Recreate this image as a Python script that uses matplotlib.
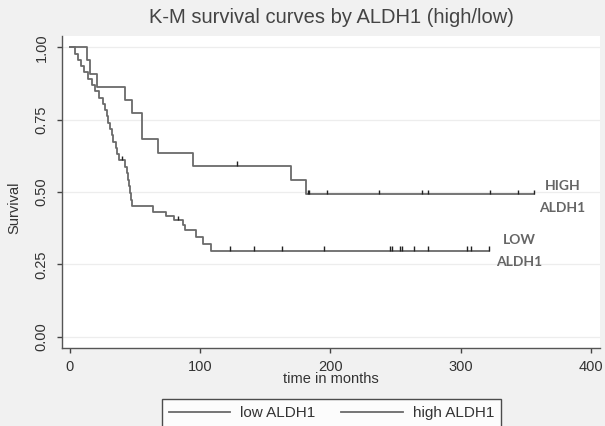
import numpy as np
import matplotlib
matplotlib.use("Agg")
import matplotlib.pyplot as plt

# Kaplan-Meier step data: time (months) of each drop and survival after it
low_times = [0, 4, 6, 8.5, 11, 14, 17, 19, 22.5, 25, 27, 28.5, 29.5, 31, 32, 33,
             35, 36.5, 38, 42.5, 43.5, 44.2, 45, 45.8, 46.6, 47.4, 64, 74, 80,
             87, 88.5, 97, 102, 108]
low_surv = [1.0, 0.978, 0.957, 0.935, 0.913, 0.891, 0.870, 0.848, 0.826, 0.804,
            0.783, 0.761, 0.739, 0.717, 0.696, 0.674, 0.652, 0.630, 0.609, 0.586,
            0.564, 0.541, 0.519, 0.496, 0.474, 0.451, 0.430, 0.417, 0.402, 0.386,
            0.368, 0.345, 0.322, 0.297]
low_end = 322
low_censored = [39.7, 83.2, 123, 141, 163, 195, 246, 247.5, 253.5, 255, 264, 275,
                305, 308, 322]

high_times = [0, 12.8, 15.4, 20.5, 42.2, 47.4, 55, 67.8, 94.7, 169.4, 181]
high_surv = [1.0, 0.955, 0.909, 0.864, 0.818, 0.773, 0.682, 0.636, 0.591, 0.542,
             0.492]
high_end = 356
high_censored = [128, 182.5, 183.5, 197, 237, 270, 274.6, 322.5, 343.7, 356]

x_ticks = [0, 100, 200, 300, 400]
y_ticks = [0.0, 0.25, 0.5, 0.75, 1.0]
y_ticklabels = ["0.00", "0.25", "0.50", "0.75", "1.00"]

title = "K-M survival curves by ALDH1 (high/low)"
series_labels = ["low ALDH1", "high ALDH1"]
curve_notes = ["LOW\nALDH1", "HIGH\nALDH1"]

plt.rcParams["font.family"] = ["Liberation Sans", "DejaVu Sans"]

fig = plt.figure(figsize=(6.05, 4.26), dpi=100, facecolor="#f1f1f1")
ax = fig.add_axes([0.1025, 0.1831, 0.8893, 0.7324])
ax.set_facecolor("white")

line_color = "#6a6a6a"
tick_color = "#222222"


def draw_curve(times, surv, end, censored):
    t = list(times) + [end]
    s = list(surv) + [surv[-1]]
    ax.step(t, s, where="post", color=line_color, lw=1.3, zorder=3)
    idx = np.searchsorted(np.array(times), np.array(censored), side="right") - 1
    cs = np.array(surv)[idx]
    ax.vlines(censored, cs, cs + 0.016, color=tick_color, lw=1.0, zorder=4)


draw_curve(low_times, low_surv, low_end, low_censored)
draw_curve(high_times, high_surv, high_end, high_censored)

ax.set_xlim(-6.1, 407)
ax.set_ylim(-0.039, 1.039)

for y in y_ticks:
    ax.axhline(y, color="#ededed", lw=0.9, zorder=1)

ax.set_xticks(x_ticks)
ax.set_yticks(y_ticks)
ax.set_yticklabels(y_ticklabels, rotation=90, va="center")
ax.tick_params(axis="both", colors="#444444", labelcolor="#333333",
               labelsize=10.5, length=3.5, width=1.0)
ax.tick_params(axis="y", pad=6)
ax.tick_params(axis="x", pad=5)

for side in ("top", "right"):
    ax.spines[side].set_visible(False)
for side in ("left", "bottom"):
    ax.spines[side].set_color("#555555")
    ax.spines[side].set_linewidth(1.0)

ax.set_xlabel("time in months", fontsize=10.5, color="#333333", labelpad=-1)
ax.set_ylabel("Survival", fontsize=10.5, color="#333333")
ax.yaxis.set_label_coords(-0.075, 0.45)

fig.text(0.548, 0.958, title, ha="center", va="center", fontsize=14.5,
         color="#444444")

# Group labels next to the curves
ax.text(low_end + 23, low_surv[-1], curve_notes[0], ha="center", va="center",
        fontsize=10, fontweight="bold", color="#666666", family="Lato",
        linespacing=1.95)
ax.text(high_end + 22, high_surv[-1] - 0.01, curve_notes[1], ha="center",
        va="center", fontsize=10, fontweight="bold", color="#666666",
        family="Lato", linespacing=1.95)

handles = [plt.Line2D([], [], color=line_color, lw=1.3),
           plt.Line2D([], [], color=line_color, lw=1.3)]
leg = fig.legend(handles, series_labels, loc="upper center",
                 bbox_to_anchor=(0.548, 1 - 399 / 426), ncol=2, fontsize=11,
                 frameon=True, fancybox=False, handlelength=4.0,
                 handletextpad=0.65, columnspacing=1.7, borderpad=0.45,
                 borderaxespad=0)
leg.get_frame().set_edgecolor("#222222")
leg.get_frame().set_linewidth(1.0)
leg.get_frame().set_facecolor("white")
for txt in leg.get_texts():
    txt.set_color("#333333")

fig.savefig("out.png", dpi=100, facecolor=fig.get_facecolor())
